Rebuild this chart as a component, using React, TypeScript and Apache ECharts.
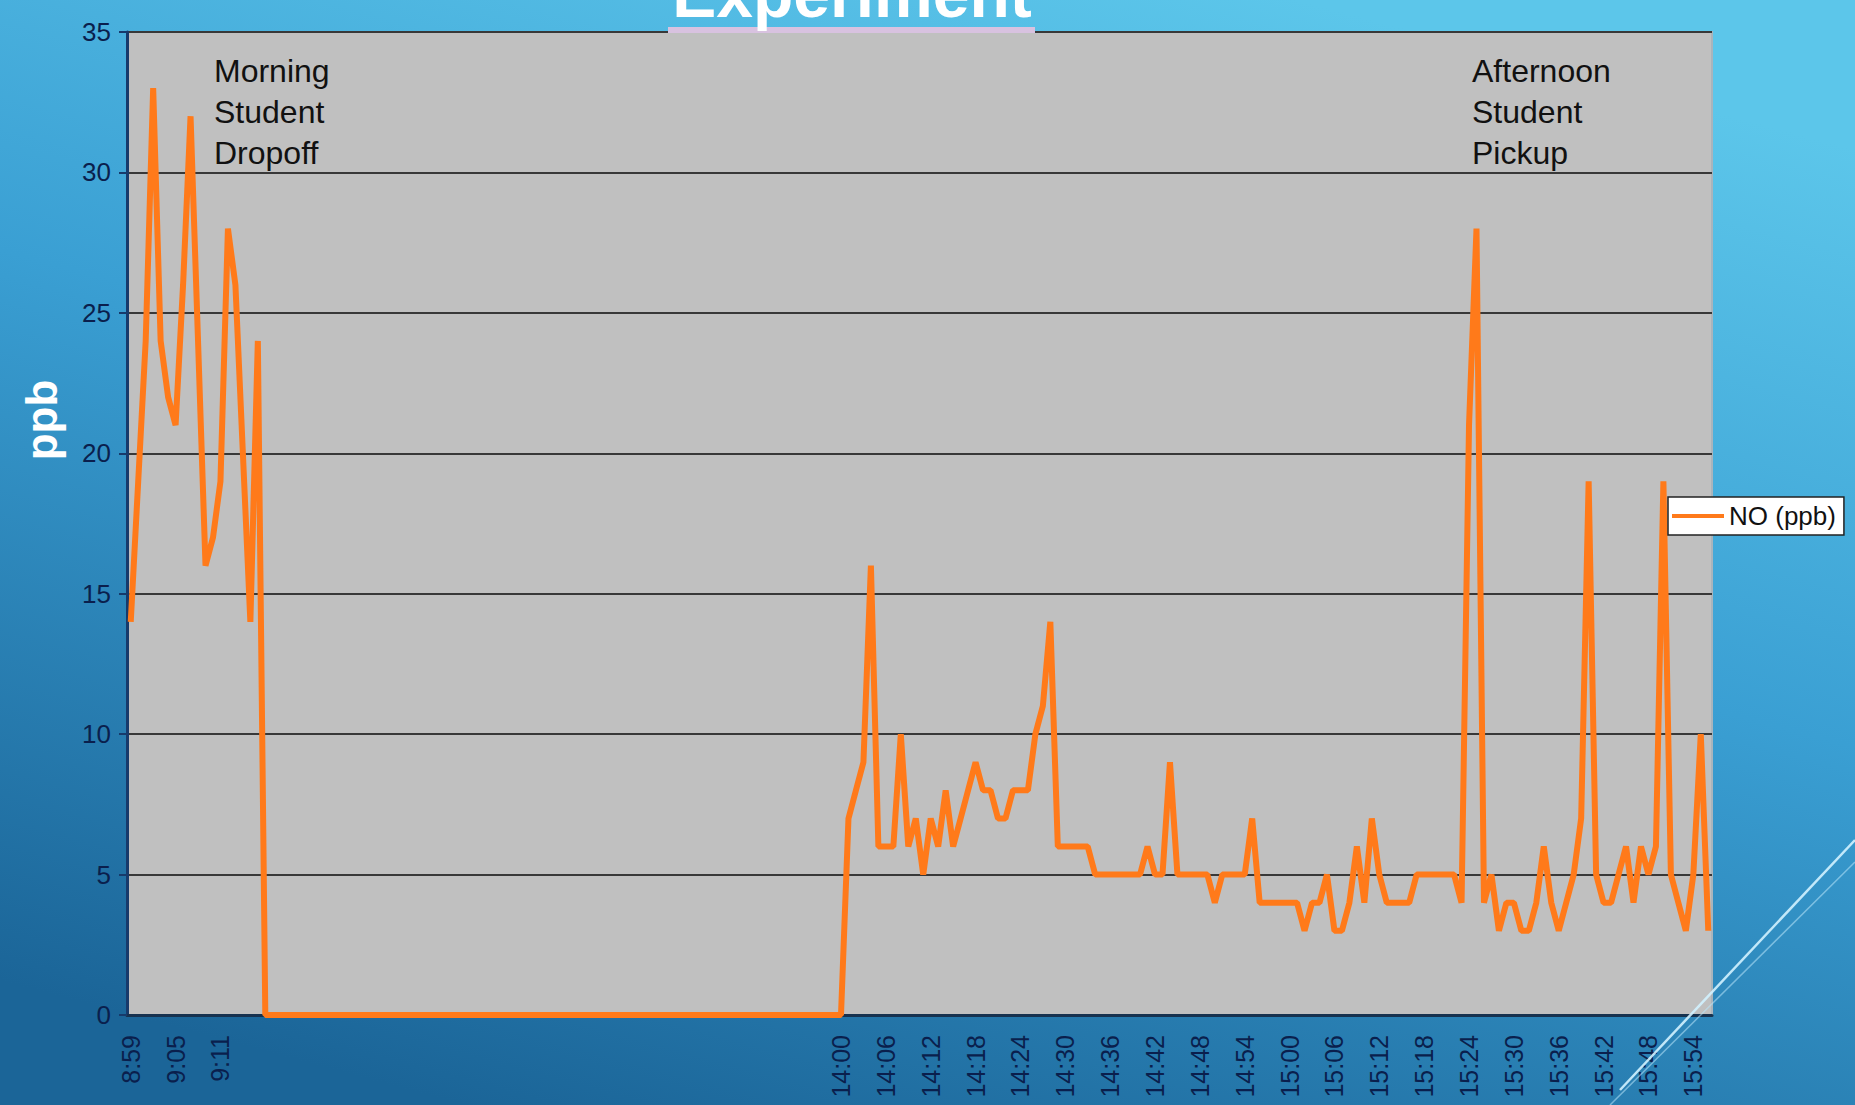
import React, { useEffect, useRef } from 'react';
import * as echarts from 'echarts';

const morningTimes = ['8:59','9:00','9:01','9:02','9:03','9:04','9:05','9:06','9:07','9:08','9:09','9:10','9:11','9:12','9:13','9:14','9:15','9:16'];
const morningValues = [14,19,24,33,24,22,21,26,32,24,16,17,19,28,26,20,14,24];

const gapValues = [
  0,0,0,0,0,0,0,0,0,0,0,
  0,0,0,0,0,0,0,0,0,0,0,
  0,0,0,0,0,0,0,0,0,0,0,
  0,0,0,0,0,0,0,0,0,0,0,
  0,0,0,0,0,0,0,0,0,0,0,
  0,0,0,0,0,0,0,0,0,0,0,
  0,0,0,0,0,0,0,0,0,0,0,
];

const afternoonTimes = [
  '14:00','14:01','14:02','14:03','14:04','14:05','14:06','14:07','14:08','14:09',
  '14:10','14:11','14:12','14:13','14:14','14:15','14:16','14:17','14:18','14:19',
  '14:20','14:21','14:22','14:23','14:24','14:25','14:26','14:27','14:28','14:29',
  '14:30','14:31','14:32','14:33','14:34','14:35','14:36','14:37','14:38','14:39',
  '14:40','14:41','14:42','14:43','14:44','14:45','14:46','14:47','14:48','14:49',
  '14:50','14:51','14:52','14:53','14:54','14:55','14:56','14:57','14:58','14:59',
  '15:00','15:01','15:02','15:03','15:04','15:05','15:06','15:07','15:08','15:09',
  '15:10','15:11','15:12','15:13','15:14','15:15','15:16','15:17','15:18','15:19',
  '15:20','15:21','15:22','15:23','15:24','15:25','15:26','15:27','15:28','15:29',
  '15:30','15:31','15:32','15:33','15:34','15:35','15:36','15:37','15:38','15:39',
  '15:40','15:41','15:42','15:43','15:44','15:45','15:46','15:47','15:48','15:49',
  '15:50','15:51','15:52','15:53','15:54','15:55','15:56',
];
const afternoonValues = [
  0,7,8,9,16,6,6,6,10,6,
  7,5,7,6,8,6,7,8,9,8,
  8,7,7,8,8,8,10,11,14,6,
  6,6,6,6,5,5,5,5,5,5,
  5,6,5,5,9,5,5,5,5,5,
  4,5,5,5,5,7,4,4,4,4,
  4,4,3,4,4,5,3,3,4,6,
  4,7,5,4,4,4,4,5,5,5,
  5,5,5,4,21,28,4,5,3,4,
  4,3,3,4,6,4,3,4,5,7,
  19,5,4,4,5,6,4,6,5,6,
  19,5,4,3,5,10,3,
];

const tickLabels = ['8:59','9:05','9:11','14:00','14:06','14:12','14:18','14:24','14:30','14:36','14:42','14:48','14:54','15:00','15:06','15:12','15:18','15:24','15:30','15:36','15:42','15:48','15:54'];

const seriesName = 'NO (ppb)';
const yAxisName = 'ppb';
const titleText = 'Experiment';
const noteMorning = 'Morning\nStudent\nDropoff';
const noteAfternoon = 'Afternoon\nStudent\nPickup';

const categories = [...morningTimes, ...gapValues.map(() => ''), ...afternoonTimes];
const values = [...morningValues, ...gapValues, ...afternoonValues];

const FONT = '"Liberation Sans", Arial, sans-serif';

export default function App() {
  const ref = useRef<HTMLDivElement>(null);
  useEffect(() => {
    if (!ref.current) return;
    const chart = echarts.init(ref.current, undefined, { renderer: 'svg' });
    chart.setOption({
      animation: false,
      textStyle: { fontFamily: FONT },
      backgroundColor: new echarts.graphic.LinearGradient(0.7, 0, 0.25, 1, [
        { offset: 0, color: '#5cc6ea' },
        { offset: 0.45, color: '#3a9fd3' },
        { offset: 1, color: '#1b6598' },
      ]),
      grid: {
        left: 127, right: 143, top: 32, bottom: 90,
        show: true, backgroundColor: '#c0c0c0', borderColor: '#a9b4bc', borderWidth: 2,
      },
      legend: {
        data: [seriesName],
        left: 1668, top: 497,
        backgroundColor: '#ffffff', borderColor: '#222', borderWidth: 1.5,
        padding: [6, 8, 6, 4],
        icon: 'rect', itemWidth: 52, itemHeight: 4,
        textStyle: { color: '#111', fontSize: 26, fontFamily: FONT },
      },
      xAxis: {
        type: 'category',
        data: categories,
        boundaryGap: true,
        axisLine: { lineStyle: { color: '#17324f', width: 3 } },
        axisTick: { show: false },
        axisLabel: {
          interval: (index: number, value: string) => tickLabels.indexOf(value) >= 0,
          rotate: 90, color: '#0a1f4d', fontSize: 25, margin: 20, fontFamily: FONT,
        },
        splitLine: { show: false },
      },
      yAxis: {
        type: 'value', min: 0, max: 35, interval: 5,
        axisLine: { show: true, lineStyle: { color: '#173a6b', width: 3 } },
        axisTick: { show: true, length: 8, lineStyle: { color: '#173a6b', width: 2 } },
        axisLabel: { color: '#0a1f4d', fontSize: 26, margin: 16, fontFamily: FONT },
        splitLine: { lineStyle: { color: '#383838', width: 2 } },
      },
      series: [{
        type: 'line', name: seriesName, data: values, symbol: 'none',
        lineStyle: { color: '#ff7a1a', width: 6 },
        itemStyle: { color: '#ff7a1a' },
        z: 3,
      }],
      graphic: [
        { type: 'rect', shape: { x: 668, y: 27, width: 367, height: 6 }, style: { fill: '#d8c2e0' }, z: 50 },
        { type: 'text', x: 852, y: 27, z: 100, style: { text: titleText, fill: '#ffffff', fontSize: 66, fontWeight: 'bold', fontFamily: FONT, align: 'center', verticalAlign: 'bottom' } },
        { type: 'text', x: 41, y: 420, rotation: Math.PI / 2, z: 100, style: { text: yAxisName, fill: '#ffffff', fontSize: 44, fontWeight: 'bold', fontFamily: FONT, align: 'center', verticalAlign: 'middle' } },
        { type: 'text', x: 214, y: 50, z: 100, style: { text: noteMorning, fill: '#111', fontSize: 32, lineHeight: 41, fontFamily: FONT, align: 'left', verticalAlign: 'top' } },
        { type: 'text', x: 1472, y: 50, z: 100, style: { text: noteAfternoon, fill: '#111', fontSize: 32, lineHeight: 41, fontFamily: FONT, align: 'left', verticalAlign: 'top' } },
        { type: 'line', shape: { x1: 1620, y1: 1090, x2: 1855, y2: 840 }, style: { stroke: 'rgba(210,242,255,0.9)', lineWidth: 2.5 }, z: 100 },
        { type: 'line', shape: { x1: 1610, y1: 1105, x2: 1855, y2: 862 }, style: { stroke: 'rgba(185,230,250,0.55)', lineWidth: 1.5 }, z: 100 },
      ],
    });
    return () => chart.dispose();
  }, []);
  return <div ref={ref} style={{ position: 'fixed', left: 0, top: 0, width: '1855px', height: '1105px' }} />;
}
